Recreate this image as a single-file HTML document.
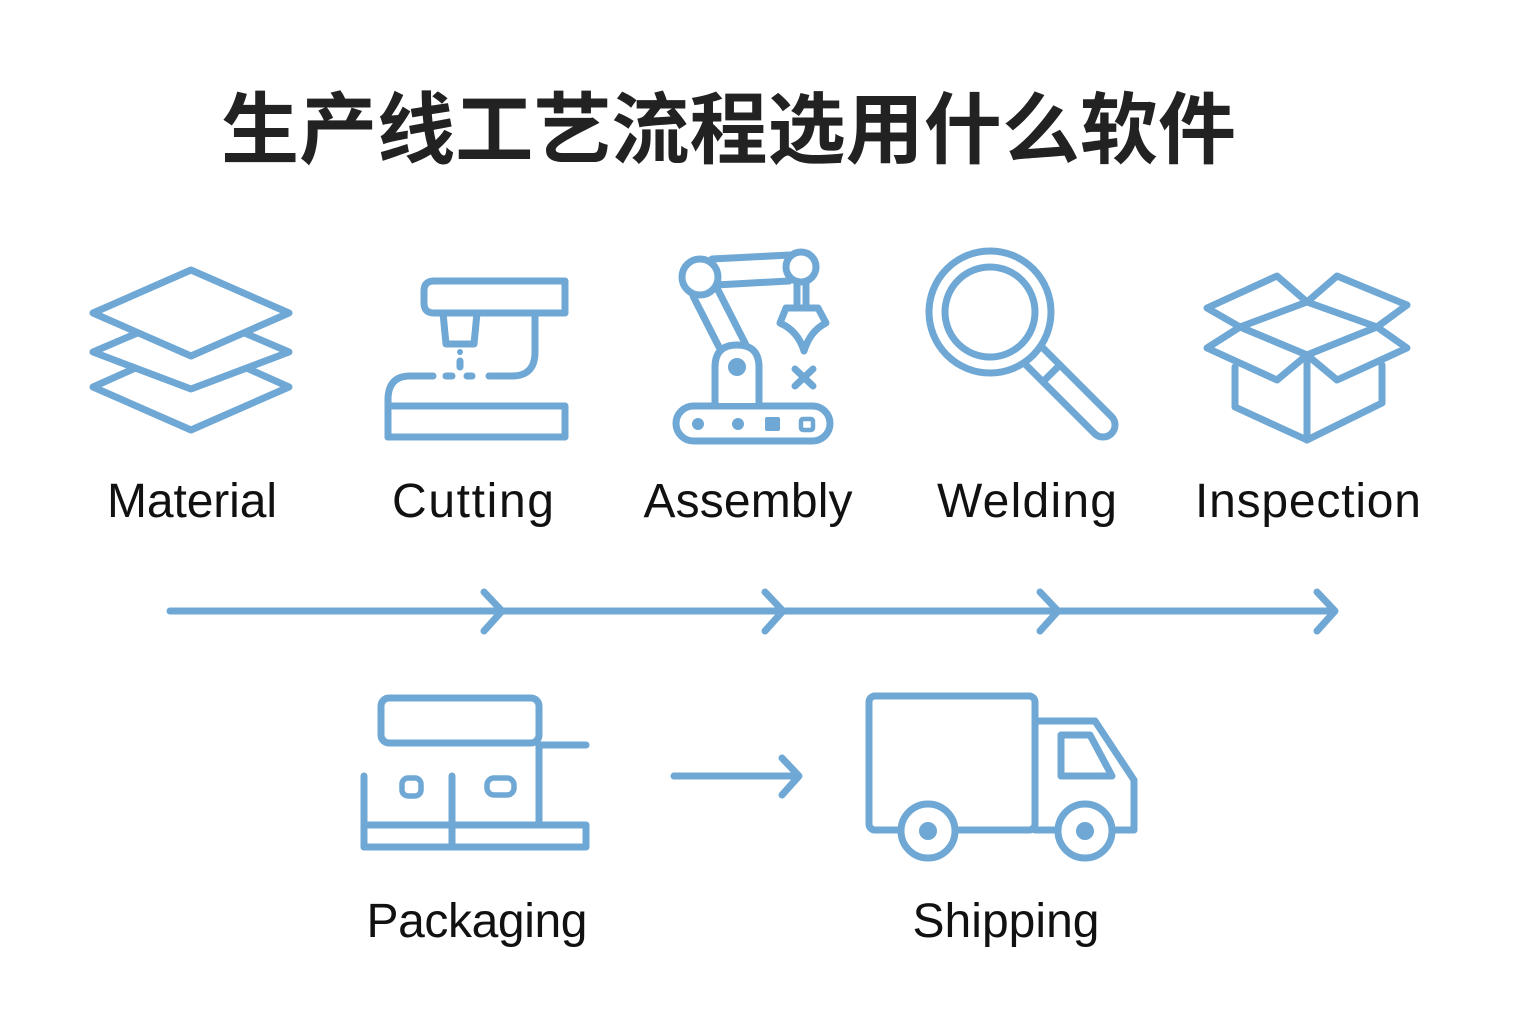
<!DOCTYPE html>
<html>
<head>
<meta charset="utf-8">
<style>
  html, body { margin: 0; padding: 0; background: #ffffff; }
  body { width: 1536px; height: 1024px; overflow: hidden; }
  svg { display: block; }
  .s { fill: none; stroke: #6fa8d5; stroke-width: 7; stroke-linecap: round; stroke-linejoin: round; }
  .w { fill: #ffffff; stroke: #6fa8d5; stroke-width: 7; stroke-linecap: round; stroke-linejoin: round; }
  .f { fill: #6fa8d5; }
  .lbl { font-family: "Liberation Sans", "DejaVu Sans", sans-serif; font-size: 48px; fill: #111111; }
  .ttl { font-family: "Liberation Sans", "Noto Sans CJK SC", "WenQuanYi Zen Hei", sans-serif; font-size: 78px; font-weight: bold; fill: #222222; }
</style>
</head>
<body>
<svg width="1536" height="1024" viewBox="0 0 1536 1024" xmlns="http://www.w3.org/2000/svg">
  <rect width="1536" height="1024" fill="#ffffff"/>

  <!-- Title -->
  <text class="ttl" x="221" y="157" textLength="1015" lengthAdjust="spacing">生产线工艺流程选用什么软件</text>

  <!-- Material: stacked layers -->
  <polygon class="w" points="93,387 191,343 289,387 191,430"/>
  <polygon class="w" points="93,352 191,310 289,352 191,389"/>
  <polygon class="w" points="93,313 191,270 289,313 191,356"/>

  <!-- Cutting: sewing machine -->
  <path class="s" d="M565,281 H434 Q424,281 424,291 V303 Q424,313 434,313 H565 Z"/>
  <path class="s" d="M443,313 L446,344 H474 L477,313"/>
  <circle class="f" cx="460" cy="352" r="3"/>
  <line class="s" x1="460" y1="361" x2="460" y2="367" stroke-width="6"/>
  <path class="s" d="M535,313 V352 Q535,376 512,376 H489"/>
  <line class="s" x1="446" y1="376" x2="452" y2="376"/>
  <line class="s" x1="467" y1="376" x2="472" y2="376"/>
  <path class="s" d="M433,376 H410 Q388,376 388,400 V437"/>
  <rect class="s" x="388" y="406" width="177" height="31"/>

  <!-- Assembly: robot arm -->
  <rect class="w" x="676" y="406" width="154" height="35" rx="17.5"/>
  <circle class="f" cx="698" cy="424" r="6"/>
  <circle class="f" cx="738" cy="424" r="6"/>
  <rect class="f" x="765" y="417" width="15" height="14" rx="2"/>
  <rect x="801" y="419" width="12" height="11" rx="2" fill="none" stroke="#6fa8d5" stroke-width="4.5"/>
  <path class="w" d="M715,403 V367 Q715,345 737,345 Q759,345 759,367 V403"/>
  <circle class="f" cx="737" cy="367" r="9"/>
  <line class="s" x1="693" y1="296" x2="720" y2="349"/>
  <line class="s" x1="718" y1="290" x2="746" y2="345"/>
  <line class="s" x1="712" y1="259" x2="790" y2="255"/>
  <line class="s" x1="716" y1="285" x2="789" y2="281"/>
  <circle class="w" cx="700" cy="277" r="18"/>
  <circle class="w" cx="801" cy="267" r="15"/>
  <path class="s" d="M797,284 V304 M806,284 V304"/>
  <path class="w" d="M786,308 L818,308 L826,323 Q810,331 804,351 Q798,331 780,323 Z"/>
  <line class="s" x1="795" y1="369" x2="813" y2="386"/>
  <line class="s" x1="813" y1="369" x2="795" y2="386"/>

  <!-- Welding: magnifier -->
  <g transform="translate(1033,355) rotate(45)">
    <path class="w" d="M0,-12 H99 A12,12 0 0 1 99,12 H0"/>
    <line class="s" x1="26" y1="-12" x2="26" y2="12"/>
  </g>
  <circle class="w" cx="990" cy="312" r="61" stroke-width="7.5"/>
  <circle class="s" cx="990" cy="312" r="45" stroke-width="7.5"/>

  <!-- Inspection: open box -->
  <path class="s" d="M1235,367 V407 L1307,440 L1382,403 V365"/>
  <line class="s" x1="1307" y1="355" x2="1307" y2="440"/>
  <polygon class="s" points="1240,327 1307,302 1377,327 1307,355"/>
  <path class="s" d="M1307,302 L1277,276 L1207,308 L1240,327"/>
  <path class="s" d="M1307,302 L1337,276 L1407,305 L1377,327"/>
  <path class="w" d="M1240,327 L1207,348 L1277,380 L1307,355 Z"/>
  <path class="w" d="M1377,327 L1407,348 L1337,380 L1307,355 Z"/>

  <!-- Labels row 1 -->
  <text class="lbl" x="192" y="517" text-anchor="middle" textLength="170" lengthAdjust="spacing">Material</text>
  <text class="lbl" x="473" y="517" text-anchor="middle" textLength="162" lengthAdjust="spacing">Cutting</text>
  <text class="lbl" x="748" y="517" text-anchor="middle" textLength="209" lengthAdjust="spacing">Assembly</text>
  <text class="lbl" x="1027" y="517" text-anchor="middle" textLength="180" lengthAdjust="spacing">Welding</text>
  <text class="lbl" x="1308" y="517" text-anchor="middle" textLength="226" lengthAdjust="spacing">Inspection</text>

  <!-- Main flow arrow -->
  <line class="s" x1="170" y1="611" x2="1334" y2="611"/>
  <path class="s" d="M484,592 L502,611 L484,631"/>
  <path class="s" d="M765,592 L783,611 L765,631"/>
  <path class="s" d="M1040,592 L1058,611 L1040,631"/>
  <path class="s" d="M1317,592 L1335,611 L1317,631"/>

  <!-- Packaging -->
  <rect class="s" x="381" y="698" width="158" height="45" rx="8"/>
  <line class="s" x1="539" y1="745" x2="586" y2="745"/>
  <line class="s" x1="539" y1="745" x2="539" y2="824"/>
  <line class="s" x1="364" y1="776" x2="364" y2="847"/>
  <line class="s" x1="452" y1="776" x2="452" y2="847"/>
  <rect class="s" x="364" y="825" width="222" height="22"/>
  <rect x="402" y="778" width="19" height="18" rx="6" fill="none" stroke="#6fa8d5" stroke-width="5.5"/>
  <rect x="487" y="778" width="27" height="17" rx="7" fill="none" stroke="#6fa8d5" stroke-width="5.5"/>

  <!-- Packaging -> Shipping arrow -->
  <line class="s" x1="674" y1="776" x2="798" y2="776"/>
  <path class="s" d="M782,758 L799,776 L782,795"/>

  <!-- Shipping: truck -->
  <rect class="s" x="869" y="696" width="166" height="134" rx="6"/>
  <path class="s" d="M1035,721 H1095 L1134,780 V830 H1110"/>
  <line class="s" x1="1035" y1="830" x2="1060" y2="830"/>
  <path class="s" d="M1061,735 H1090 L1112,776 H1061 Z"/>
  <circle class="w" cx="928" cy="831" r="27"/>
  <circle class="f" cx="928" cy="831" r="9"/>
  <circle class="w" cx="1085" cy="831" r="27"/>
  <circle class="f" cx="1085" cy="831" r="9"/>

  <!-- Labels row 2 -->
  <text class="lbl" x="477" y="937" text-anchor="middle" textLength="221" lengthAdjust="spacing">Packaging</text>
  <text class="lbl" x="1006" y="937" text-anchor="middle" textLength="187" lengthAdjust="spacing">Shipping</text>
</svg>
</body>
</html>
